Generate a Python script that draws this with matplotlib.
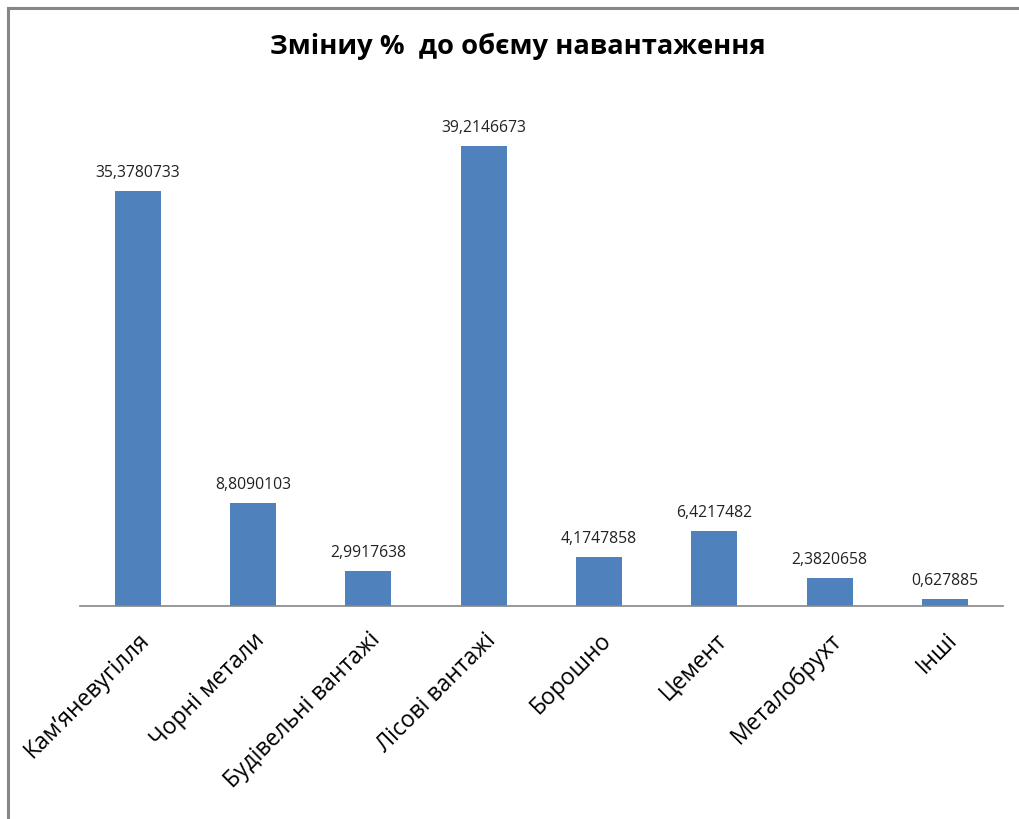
import matplotlib
matplotlib.use("Agg")
import matplotlib.pyplot as plt
from matplotlib.lines import Line2D

categories = ["Кам\u2019яневугілля", "Чорні метали", "Будівельні вантажі", "Лісові вантажі",
              "Борошно", "Цемент", "Металобрухт", "Інші"]
values = [35.3780733, 8.8090103, 2.9917638, 39.2146673, 4.1747858, 6.4217482, 2.3820658, 0.627885]
value_labels = ["35,3780733", "8,8090103", "2,9917638", "39,2146673",
                "4,1747858", "6,4217482", "2,3820658", "0,627885"]

plt.rcParams['font.family'] = ['Open Sans', 'DejaVu Sans']

fig = plt.figure(figsize=(10.19, 8.19), dpi=100)
ax = fig.add_axes([0.0785, 0.260, 0.9055, 0.645])

x = list(range(len(categories)))
ax.bar(x, values, width=0.4, color="#4F81BD", zorder=2)
for xi, v, lab in zip(x, values, value_labels):
    ax.annotate(lab, (xi, v), xytext=(0, 7), textcoords="offset points",
                ha="center", va="bottom", fontsize=11.3, color="#222222")

ax.set_xlim(-0.5, len(categories) - 0.5)
ax.set_ylim(0, 45)
ax.set_yticks([])
ax.set_xticks(x)
ax.set_xticklabels(categories, rotation=45, ha="right", rotation_mode="anchor", fontsize=16.5)
ax.tick_params(axis="x", length=0, pad=16)
for s in ["top", "right", "left"]:
    ax.spines[s].set_visible(False)
ax.spines["bottom"].set_color("#868686")
ax.spines["bottom"].set_linewidth(1.2)

fig.text(0.508, 0.943, "Зміниу %  до обєму навантаження", ha="center", va="center",
         fontsize=19.7, fontweight="bold")

# chart border (top and left edges)
fig.add_artist(Line2D([0.0083, 1.0], [0.9906, 0.9906], color="#878787", lw=2.2))
fig.add_artist(Line2D([0.0083, 0.0083], [0.0, 0.9906], color="#878787", lw=2.2))

fig.savefig("out.png", dpi=100)
